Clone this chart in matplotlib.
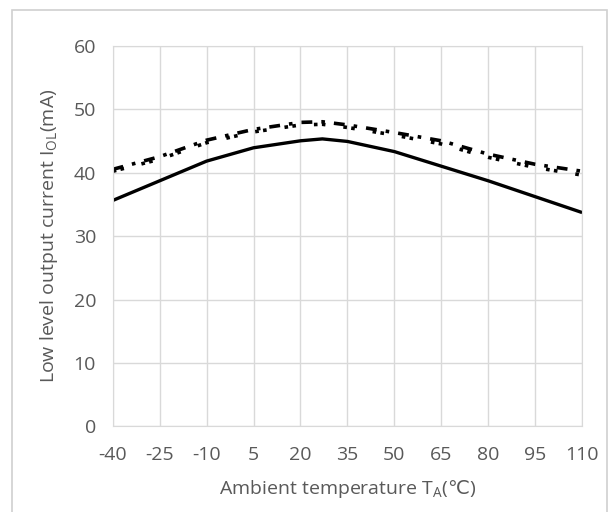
import matplotlib
matplotlib.use("Agg")
import matplotlib.pyplot as plt
from matplotlib.patches import Rectangle

plt.rcParams['font.family'] = ['Open Sans', 'DejaVu Sans']
plt.rcParams['mathtext.fontset'] = 'custom'
plt.rcParams['mathtext.rm'] = 'Open Sans'
plt.rcParams['mathtext.sf'] = 'DejaVu Sans'
plt.rcParams['mathtext.default'] = 'regular'
plt.rcParams['axes.unicode_minus'] = False

# ambient temperature (degC) and low level output current (mA)
temp = [-40, -25, -10, 5, 20, 27, 35, 50, 65, 80, 95, 110]
iol_solid = [35.6, 38.7, 41.8, 43.9, 45.0, 45.3, 44.9, 43.3, 41.0, 38.7, 36.2, 33.7]
iol_dashdot = [40.5, 42.5, 45.1, 46.8, 47.9, 48.0, 47.5, 46.3, 45.0, 42.9, 41.3, 40.2]
iol_dot = [40.2, 42.1, 44.7, 46.4, 47.5, 47.6, 47.1, 45.9, 44.5, 42.4, 40.8, 39.6]

xticks = [-40, -25, -10, 5, 20, 35, 50, 65, 80, 95, 110]
yticks = [0, 10, 20, 30, 40, 50, 60]

fig = plt.figure(figsize=(6.16, 5.12), dpi=100)
fig.patches.append(Rectangle((0.02, -0.01), 0.965, 0.99, transform=fig.transFigure,
                             fill=False, edgecolor='#d0d0d0', linewidth=1.2))
ax = fig.add_axes([0.183, 0.167, 0.762, 0.744])

ax.plot(temp, iol_solid, color='black', linewidth=2.4, solid_capstyle='butt')
ax.plot(temp, iol_dashdot, color='black', linewidth=2.6,
        linestyle=(0, (3, 2.5, 1, 2.5)))
ax.plot(temp, iol_dot, color='black', linewidth=2.6,
        linestyle=(0, (1, 1.2, 1, 5)))

ax.set_xlim(-40, 110)
ax.set_ylim(0, 60)
ax.set_xticks(xticks)
ax.set_yticks(yticks)
ax.grid(True, color='#d9d9d9', linewidth=1.0)
ax.set_axisbelow(True)
for s in ax.spines.values():
    s.set_color('#d9d9d9')
ax.tick_params(length=0, colors='#595959', labelsize=14, pad=14)
ax.tick_params(axis='y', pad=12)

ax.set_xlabel('Ambient temperature T$_A$($\\mathsf{\u2103}$)', color='#595959', fontsize=14, labelpad=10)
ax.set_ylabel('Low level output current I$_{OL}$(mA)', color='#595959', fontsize=14, labelpad=10)

fig.savefig('out.png', dpi=100)
